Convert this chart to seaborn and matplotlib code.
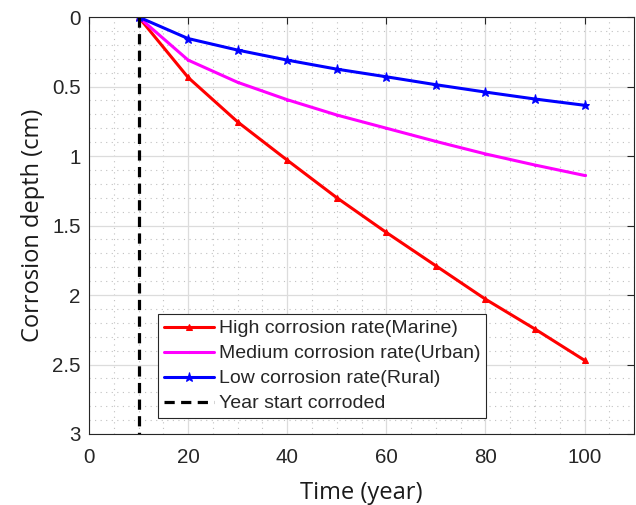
import matplotlib
matplotlib.use("Agg")
import matplotlib.pyplot as plt
import seaborn as sns
import pandas as pd
import numpy as np
from matplotlib.ticker import MultipleLocator, FuncFormatter

years = [10, 20, 30, 40, 50, 60, 70, 80, 90, 100]
high_marine = [0, 0.435, 0.755, 1.03, 1.30, 1.55, 1.79, 2.03, 2.245, 2.47]
medium_urban = [0, 0.31, 0.47, 0.595, 0.705, 0.80, 0.895, 0.985, 1.065, 1.14]
low_rural = [0, 0.155, 0.238, 0.31, 0.375, 0.43, 0.487, 0.54, 0.59, 0.635]
start_year = [10, 10]
start_depth = [0, 3]

labels = ["High corrosion rate(Marine)", "Medium corrosion rate(Urban)",
          "Low corrosion rate(Rural)", "Year start corroded"]

sns.set_style("white")
plt.rcParams['font.family'] = ['Liberation Sans', 'DejaVu Sans']

fig = plt.figure(figsize=(6.36, 5.05), dpi=100)
ax = fig.add_axes([0.14, 0.1406, 0.857, 0.8257])

df = pd.DataFrame({"Time": years, "High": high_marine, "Medium": medium_urban, "Low": low_rural})

sns.lineplot(data=df, x="Time", y="High", ax=ax, color="#ff0000", lw=2.2,
             marker="^", markersize=5, markeredgecolor="#ff0000", label=labels[0])
sns.lineplot(data=df, x="Time", y="Medium", ax=ax, color="#ff00ff", lw=2.2,
             marker=".", markersize=3, markeredgecolor="#ff00ff", label=labels[1])
sns.lineplot(data=df, x="Time", y="Low", ax=ax, color="#0000ff", lw=2.2,
             marker="*", markersize=6.5, markeredgecolor="#0000ff", label=labels[2])
sns.lineplot(x=start_year, y=start_depth, ax=ax, color="black", lw=2.3,
             estimator=None, sort=False,
             linestyle=(0, (3.2, 2.0)), label=labels[3])

ax.set_xlim(0, 110)
ax.set_ylim(3, 0)
ax.xaxis.set_major_locator(MultipleLocator(20))
ax.xaxis.set_minor_locator(MultipleLocator(5))
ax.yaxis.set_major_locator(MultipleLocator(0.5))
ax.yaxis.set_minor_locator(MultipleLocator(0.1))
ax.yaxis.set_major_formatter(FuncFormatter(lambda v, p: f"{v:g}"))

ax.grid(which="major", color="#dcdcdc", lw=0.9, ls="-")
ax.grid(which="minor", color="#c0c0c0", lw=0.8, ls=(0, (1, 4)))
ax.set_axisbelow(True)

for s in ax.spines.values():
    s.set_visible(True)
    s.set_color("#262626")
    s.set_linewidth(0.8)

ax.tick_params(which="major", direction="in", length=5, width=0.8, top=True, right=True,
               labelsize=14.8, colors="#262626", labelcolor="#262626")
ax.tick_params(axis="x", which="major", pad=10)
ax.tick_params(axis="y", which="major", pad=6)
ax.tick_params(which="minor", length=0, top=True, right=True)

ax.set_xlabel("Time (year)", fontsize=17, color="#1a1a1a", labelpad=10,
              family=["Open Sans", "DejaVu Sans"])
ax.set_ylabel("Corrosion depth (cm)", fontsize=17, color="#1a1a1a", labelpad=5,
              family=["Open Sans", "DejaVu Sans"])

leg = ax.legend(loc="lower left", bbox_to_anchor=(0.127, 0.038), fontsize=14,
                frameon=True, fancybox=False, edgecolor="#262626", framealpha=1,
                borderpad=0.3, labelspacing=0.38, handlelength=2.55, handletextpad=0.25,
                borderaxespad=0)
leg.get_frame().set_linewidth(0.8)

fig.savefig("out.png", dpi=100)
